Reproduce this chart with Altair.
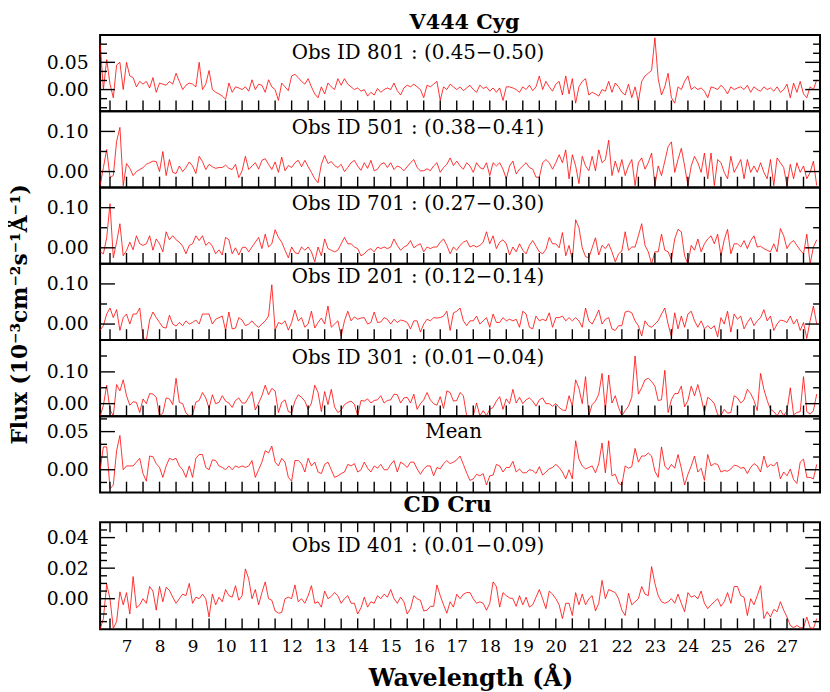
import altair as alt
import numpy as np
import pandas as pd

# ---------------- data (flux in 1e-3 units, CD Cru in 1e-4 units) ----------------
WL_START = 6.2
WL_STEP = 0.1
X_DOMAIN = [6.2, 28.0]
X_LABELS = list(range(7, 28))
X_TICKS = [6.5 + 0.5 * k for k in range(43)]

FLUX_801 = [85,0,55,10,-15,45,50,0,50,25, 22,5,15,10,15,3,22,-5,12,10,
    8,15,10,30,15,0,8,12,10,5, 50,0,10,35,0,-5,-8,-12,-18,12,
    -5,5,3,0,5,-3,18,0,10,8, -5,18,5,0,-20,12,5,-2,25,28,
    22,15,10,20,5,-8,-15,5,-8,12, 5,0,20,8,20,10,5,0,3,-3,
    0,-12,-5,-10,2,-5,0,3,0,12, -2,-10,3,8,5,10, 5,0,-15,8,
    5,10,15,-20,5,0,10,5,0,5, -2,3,8,0,-5,8,2,5,-3,3,
    -5,3,-20,5,5,3,0,-5,5,0, 8,-2,5,25,0,15,5,-3,10,15,
    -10,25,-8,20,-25,5,15,20,-10,-5, -8,-12,0,-3,15,-5,12,5,-5,-10,
    10,-15,5,-22,15,25,30,35,95,20, -10,5,30,-15,-25,5,0,15,25,0,
    5,0,3,-3,-15,5,3,0,8,2, -8,5,0,3,5,0,8,-5,5,0,
    -3,5,0,3,-3,5,-5,0,10,-15, 12,-5,15,-8,-15,5,0,18]

FLUX_501 = [-35,10,55,-15,-10,75,110,-35,20,8, -10,0,5,10,18,22,26,25,0,50,
    -10,30,-2,-5,14,0,10,24,14,-5, 38,25,5,18,12,8,10,10,16,8,
    5,18,-15,2,38,5,14,22,6,28, 32,18,5,24,-2,36,2,15,10,22,
    28,12,28,12,-2,-18,-28,18,40,20, 25,15,10,18,0,10,22,28,14,3,
    22,8,28,2,6,18,22,10,22,5, 14,10,2,12,22,30, 10,2,2,7,
    2,14,22,-2,10,18,34,15,26,14, 6,22,14,-2,22,10,6,22,-10,22,
    14,22,6,-18,14,26,-6,6,14,22, 10,6,-14,-14,22,30,22,6,22,42,
    22,54,-18,42,14,-30,38,14,2,38, 2,54,22,30,78,-10,26,-2,30,-10,
    14,30,-35,22,34,6,22,46,-35,14, -10,26,62,74,-2,30,58,14,-35,14,
    38,22,-2,46,-18,46,-35,30,22,-2, -18,38,-2,14,30,-18,30,-2,14,-2,
    22,-2,-18,30,-35,34,22,10,-35,18, -18,22,-2,14,-18,-2,26,-35]

FLUX_701 = [-10,-15,25,110,-25,14,60,-20,-7,14, -5,30,10,6,10,30,-6,22,10,-10,
    40,20,30,20,14,4,-15,6,10,30, 18,30,6,14,4,-15,-5,-18,26,20,
    -15,0,-18,0,2,-10,2,14,26,-2, 34,2,10,45,26,14,-6,-25,2,-12,
    -15,2,-6,2,-10,-35,2,-20,22,-2, -6,-10,-6,10,26,10,10,2,-2,-20,
    -15,-6,-2,-10,2,-2,2,-2,2,22, 6,-6,2,6,18,0, 6,10,-10,2,
    -2,2,2,14,22,6,-15,2,-6,6, 14,18,2,6,2,6,14,40,10,30,
    -2,14,20,10,-18,2,-10,10,-6,-15, 6,18,4,-10,-15,-4,26,10,10,0,
    38,-20,6,-30,70,50,0,-22,-25,0, 25,-18,6,-2,10,-10,-35,-15,-8,40,
    -6,2,2,30,60,6,-10,-40,-10,-10, 34,-6,-10,-30,22,46,40,-20,-40,6,
    -6,22,-10,10,22,30,10,34,-20,20, 46,-15,10,10,2,18,-2,18,30,2,
    4,-2,-6,-10,10,-10,48,30,-2,12, 18,6,-6,-15,34,-40,2,20]

FLUX_201 = [-15,-4,25,40,16,36,-16,16,25,0, 25,25,40,-35,-40,10,30,16,4,-8,
    -10,22,0,-5,4,-4,8,0,4,10, 0,25,25,25,0,12,16,20,-16,30,
    -12,-10,16,10,-4,0,8,-2,-8,0, 8,20,98,-15,4,0,8,-15,4,35,
    8,16,-8,0,32,-10,4,15,0,45, -8,0,8,-30,8,32,8,18,12,15,
    16,0,4,30,4,5,16,12,0,12, 4,10,8,4,-12,8, 8,-20,0,12,
    8,16,15,16,20,32,-16,28,32,40, 8,-4,8,8,20,0,8,16,-8,25,
    4,4,16,8,12,8,12,-8,32,25, -8,-12,20,8,12,8,28,-8,16,16,
    20,8,16,8,16,8,-8,40,8,0, 16,35,0,12,16,-12,-16,-4,-4,30,
    32,28,8,-4,-30,8,-4,-8,0,8, 25,40,0,-32,28,-12,20,-8,25,32,
    8,-8,8,-12,-4,-12,-4,-32,16,0, 32,-20,25,12,20,-12,4,16,-4,8,
    16,36,8,20,-16,0,10,8,4,20, 0,12,-16,4,-36,8,45,0]

FLUX_301 = [-40,-5,58,-20,-38,60,40,75,25,-5, 6,4,-28,15,0,32,30,20,-38,-30,
    18,15,-3,80,4,0,-30,-38,-35,5, 10,35,18,-15,28,0,4,25,8,2,
    -12,10,18,2,2,20,38,-20,2,25, 58,28,48,40,-28,4,12,-25,-28,8,
    28,20,8,-18,2,58,35,-25,38,-3, 45,-10,-28,-20,-3,4,8,-2,-38,10,
    8,15,2,10,12,25,2,10,12,30, 28,2,18,20,2,30, -18,0,12,35,
    12,0,-5,22,-15,40,35,8,10,35, 25,-38,-38,-38,2,-38,-22,-38,-18,-12,
    8,22,-18,15,0,45,2,20,0,12, 18,8,-8,12,18,0,0,-8,0,-12,
    -20,-22,25,-8,75,48,0,85,-38,-3, 8,30,95,-20,90,2,25,-12,-38,-22,
    -8,20,150,30,50,75,80,70,55,10, 12,105,-28,12,32,32,55,-10,10,55,
    25,60,20,-28,20,12,0,-35,-38,-18, -30,-28,25,18,2,12,45,32,10,-22,
    95,45,10,-18,-25,-38,-20,-38,-22,50, -35,-28,-25,85,-25,-33,-22,30]

FLUX_MEAN = [0,30,30,-25,-20,25,45,0,5,5, 5,10,15,-5,-15,18,17,8,3,-10,
    5,15,13,15,5,0,-10,5,-10,15, 20,20,3,0,13,12,5,3,0,5,
    0,5,3,5,3,5,12,-10,0,10, 25,22,31,10,5,15,10,-10,-15,12,
    12,8,-3,15,5,10,-3,-5,7,10, 0,-10,-8,-5,-3,7,5,8,-3,0,
    10,2,-3,5,2,7,0,0,7,12, -3,10,7,3,10,10, 1,-6,1,5,
    5,-8,3,1,8,12,8,10,13,18, 7,-4,-14,-12,-6,-8,-5,-20,-8,-7,
    7,5,-3,3,3,11,-3,1,-4,-4, 0,-1,-5,4,-7,-3,1,3,7,3,
    -3,-12,0,-12,38,14,5,1,3,5, -4,8,35,-4,38,-8,-6,-18,-20,5,
    2,4,28,10,18,18,22,18,-2,-10, 30,5,0,7,2,20,2,-20,-6,5,
    18,-3,2,-14,20,5,8,7,-3,-1, -2,1,6,5,2,3,-5,3,8,5,
    -3,18,3,7,5,10,-12,-3,-8,1, -13,-18,10,14,-10,-10,-12,7]

FLUX_401 = [-200,-130,95,0,-195,-150,45,-40,40,-100, 145,-60,-40,0,-30,80,50,-75,80,-20,
    75,55,10,-30,0,30,20,100,-30,10, 0,30,0,-120,30,-40,10,-20,60,20,
    10,85,-10,20,195,130,0,60,-40,40, 110,0,-10,-80,-95,-90,0,10,0,90,
    -20,0,-30,20,85,-30,-20,-55,50,0, 15,40,20,-30,0,20,-30,-30,-100,-60,
    10,-55,-20,-30,20,0,30,10,60,0, -30,10,-20,-100,-65,20, 0,-10,-80,-75,
    -50,-50,90,20,-40,-95,-20,-55,30,0, 30,40,40,0,-30,-20,-30,-75,-30,110,
    80,-55,40,20,5,0,-50,20,-40,10, -55,-40,10,60,0,-65,50,30,0,-40,
    -130,-30,-30,-110,40,-40,30,-40,0,20, -80,-30,120,0,60,50,40,0,-75,-110,
    35,-40,-20,0,80,30,20,210,100,20, -20,-30,-20,0,-30,30,-30,-85,40,10,
    20,0,50,-30,-65,-40,-20,0,-50,-20, 40,-30,80,80,20,10,-110,0,-40,20,
    85,-130,-85,-120,-70,-85,-20,-75,-120,-175, -190,-175,-190,-190,-120,-190,-195,-130]

LABELS = ["Obs ID 801 : (0.45\u22120.50)", "Obs ID 501 : (0.38\u22120.41)",
          "Obs ID 701 : (0.27\u22120.30)", "Obs ID 201 : (0.12\u22120.14)",
          "Obs ID 301 : (0.01\u22120.04)", "Mean", "Obs ID 401 : (0.01\u22120.09)"]
TITLE_TOP = "V444 Cyg"
TITLE_BOTTOM = "CD Cru"
Y_TITLE = "Flux (10\u207b\u00b3cm\u207b\u00b2s\u207b\u00b9\u00c5\u207b\u00b9)"
X_TITLE = "Wavelength (\u00c5)"

FONT = "DejaVu Serif"
W = 727
H = 77
H7 = 108
GAP = 30


def panel(vals, unit, ydom, major, minor, label, lab_x, lab_y, height,
          top_ticks=False, bottom_axis=False, extras=()):
    wl = np.round(WL_START + WL_STEP * np.arange(len(vals)), 2)
    df = pd.DataFrame({"wl": wl, "flux": np.array(vals, dtype=float) * unit})
    xs = alt.Scale(domain=X_DOMAIN, nice=False, zero=False)
    ys = alt.Scale(domain=ydom, nice=False, zero=False)
    yaxis = alt.Axis(values=major, format=".2f", ticks=False, domain=False, grid=False,
                     labelFont=FONT, labelFontSize=19, labelColor="black",
                     labelPadding=12, title=None)
    if bottom_axis:
        xaxis = alt.Axis(values=X_LABELS, format="d", ticks=False, domain=False, grid=False,
                         labelFont=FONT, labelFontSize=17, labelColor="black",
                         labelPadding=9, labelOverlap=False,
                         title=X_TITLE, titleFont=FONT, titleFontSize=24,
                         titleFontWeight="bold", titleColor="black", titlePadding=13,
                         titleX=374, titleAlign="center")
    else:
        xaxis = None

    layers = [alt.Chart(df).mark_line(color="#ff0000", strokeWidth=0.8, clip=True).encode(
        x=alt.X("wl:Q", scale=xs, axis=xaxis),
        y=alt.Y("flux:Q", scale=ys, axis=yaxis))]

    def yticks(values, length):
        d = pd.DataFrame({"v": values})
        out = []
        for x0, x1 in ((0, length), (W, W - length)):
            out.append(alt.Chart(d).mark_rule(color="black", strokeWidth=1.4).encode(
                y=alt.Y("v:Q", scale=ys, axis=yaxis),
                x=alt.value(x0), x2=alt.value(x1)))
        return out

    layers += yticks(major, 15)
    layers += yticks(minor, 7)

    dx = pd.DataFrame({"t": X_TICKS})
    layers.append(alt.Chart(dx).mark_rule(color="black", strokeWidth=1.4).encode(
        x=alt.X("t:Q", scale=xs, axis=xaxis), y=alt.value(height), y2=alt.value(height - 11)))
    if top_ticks:
        layers.append(alt.Chart(dx).mark_rule(color="black", strokeWidth=1.4).encode(
            x=alt.X("t:Q", scale=xs, axis=xaxis), y=alt.value(0), y2=alt.value(10)))

    layers.append(alt.Chart(pd.DataFrame({"t": [label]})).mark_text(
        font=FONT, fontSize=20, color="black", align="center", baseline="middle").encode(
        text="t:N", x=alt.value(lab_x), y=alt.value(lab_y)))

    for (txt, tx, ty, size, angle) in extras:
        layers.append(alt.Chart(pd.DataFrame({"t": [txt]})).mark_text(
            font=FONT, fontSize=size, fontWeight="bold", color="black", align="center",
            baseline="middle", angle=angle).encode(
            text="t:N", x=alt.value(tx), y=alt.value(ty)))

    return alt.layer(*layers).properties(width=W, height=height)


third = 0.05 / 3
p1 = panel(FLUX_801, 1e-3, [-0.04, 0.10], [0.0, 0.05],
           [-2 * third, -third, third, 2 * third, 0.05 + third, 0.05 + 2 * third],
           LABELS[0], 321, 18, H, extras=[(TITLE_TOP, 368, -12, 21, 0)])
p2 = panel(FLUX_501, 1e-3, [-0.04, 0.15], [0.0, 0.10], [0.05], LABELS[1], 321, 17, H)
p3 = panel(FLUX_701, 1e-3, [-0.04, 0.15], [0.0, 0.10], [0.05], LABELS[2], 321, 17, H)
p4 = panel(FLUX_201, 1e-3, [-0.04, 0.15], [0.0, 0.10], [0.05], LABELS[3], 321, 13, H,
           extras=[(Y_TITLE, -81, 51, 22, 270)])
p5 = panel(FLUX_301, 1e-3, [-0.04, 0.20], [0.0, 0.10], [0.05, 0.15], LABELS[4], 321, 18, H)
p6 = panel(FLUX_MEAN, 1e-3, [-0.03, 0.07], [0.0, 0.05],
           [-third, third, 2 * third, 0.05 + third], LABELS[5], 357, 16, H)
p7 = panel(FLUX_401, 1e-4, [-0.02, 0.05], [0.0, 0.02, 0.04],
           [-0.015, -0.01, -0.005, 0.005, 0.01, 0.015, 0.025, 0.03, 0.035, 0.045],
           LABELS[6], 321, 24, H7, top_ticks=True, bottom_axis=True)

spacer = alt.Chart(pd.DataFrame({"t": [TITLE_BOTTOM]})).mark_text(
    font=FONT, fontSize=22, fontWeight="bold", color="black", align="center",
    baseline="middle").encode(text="t:N", x=alt.value(351), y=alt.value(13)).properties(
    width=W, height=GAP, view=alt.ViewBackground(stroke="transparent", strokeWidth=0))

chart = alt.VConcatChart(vconcat=[p1, p2, p3, p4, p5, p6, spacer, p7], spacing=0,
                         bounds="flush", padding=0, background="white").configure_view(
    stroke="black", strokeWidth=2).configure_axis(labelColor="black")

chart.save("out.html", embed_options={"renderer": "svg", "actions": False})
